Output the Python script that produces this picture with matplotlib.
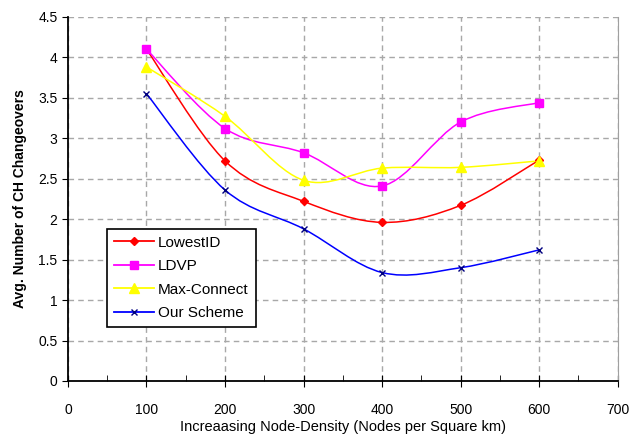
import numpy as np
import matplotlib
matplotlib.use("Agg")
import matplotlib.pyplot as plt
from matplotlib.path import Path
from matplotlib.patches import PathPatch
from matplotlib.lines import Line2D
from matplotlib.ticker import MultipleLocator

plt.rcParams['font.family'] = ['Liberation Sans', 'DejaVu Sans']

density = [100, 200, 300, 400, 500, 600]
lowest_id = [4.10, 2.72, 2.22, 1.96, 2.17, 2.73]
ldvp = [4.10, 3.12, 2.82, 2.41, 3.20, 3.44]
max_connect = [3.88, 3.27, 2.48, 2.63, 2.64, 2.72]
our_scheme = [3.55, 2.36, 1.88, 1.34, 1.40, 1.62]


def smooth_path(xs, ys):
    # Bezier segments through the points (Catmull-Rom style handles)
    p = np.column_stack([xs, ys]).astype(float)
    verts = [p[0]]
    codes = [Path.MOVETO]
    n = len(p)
    for i in range(n - 1):
        p0 = p[i - 1] if i > 0 else p[i]
        p3 = p[i + 2] if i + 2 < n else p[i + 1]
        c1 = p[i] + (p[i + 1] - p0) / 6.0
        c2 = p[i + 1] - (p3 - p[i]) / 6.0
        verts += [c1, c2, p[i + 1]]
        codes += [Path.CURVE4] * 3
    return Path(verts, codes)


series = [
    ("LowestID", lowest_id, "#ff0000", "D", "#ff0000", 4.5),
    ("LDVP", ldvp, "#ff00ff", "s", "#ff00ff", 6),
    ("Max-Connect", max_connect, "#ffff00", "^", "#ffff00", 7),
    ("Our Scheme", our_scheme, "#0000ff", "x", "#000080", 5),
]

fig = plt.figure(figsize=(6.29, 4.43), dpi=100)
ax = fig.add_axes([0.108, 0.14, 0.874, 0.822])

handles = []
for name, vals, col, mk, mcol, ms in series:
    ax.add_patch(PathPatch(smooth_path(density, vals), fill=False, edgecolor=col, lw=1.1, zorder=3))
    ax.plot(density, vals, linestyle="none", marker=mk, color=mcol, markersize=ms,
            markeredgewidth=1.0, zorder=4)
    handles.append(Line2D([], [], color=col, lw=1.3, marker=mk, markersize=ms,
                          markerfacecolor=mcol, markeredgecolor=mcol, label=name))

ax.set_xlim(0, 700)
ax.set_ylim(0, 4.5)
ax.xaxis.set_major_locator(MultipleLocator(100))
ax.xaxis.set_minor_locator(MultipleLocator(50))
ax.set_yticks(np.arange(0, 4.51, 0.5))
ax.set_yticklabels(["0", "0.5", "1", "1.5", "2", "2.5", "3", "3.5", "4", "4.5"])

ax.grid(True, which="major", color="#a8a8a8", linestyle=(0, (4, 3)), lw=1.0)
ax.set_axisbelow(True)
ax.tick_params(axis="x", which="major", direction="inout", length=8, labelsize=10, pad=12)
ax.tick_params(axis="x", which="minor", direction="in", length=4)
ax.tick_params(axis="y", direction="out", length=4, labelsize=10)

ax.spines["top"].set_visible(False)
ax.spines["right"].set_color("#a0a0a0")
ax.spines["left"].set_linewidth(1.3)
ax.spines["bottom"].set_linewidth(1.3)

ax.set_xlabel("Increaasing Node-Density (Nodes per Square km)", fontsize=10.5, labelpad=2)
ax.set_ylabel("Avg. Number of CH Changeovers", fontsize=10, fontweight="bold", labelpad=8)

leg = ax.legend(handles=handles, loc="lower left", bbox_to_anchor=(0.071, 0.148),
                borderaxespad=0, fontsize=11, frameon=True, fancybox=False,
                handlelength=2.6, borderpad=0.45, labelspacing=0.62, handletextpad=0.3)
leg.get_frame().set_edgecolor("black")
leg.get_frame().set_linewidth(1.2)
leg.get_frame().set_alpha(1)

fig.savefig("out.png", dpi=100)
